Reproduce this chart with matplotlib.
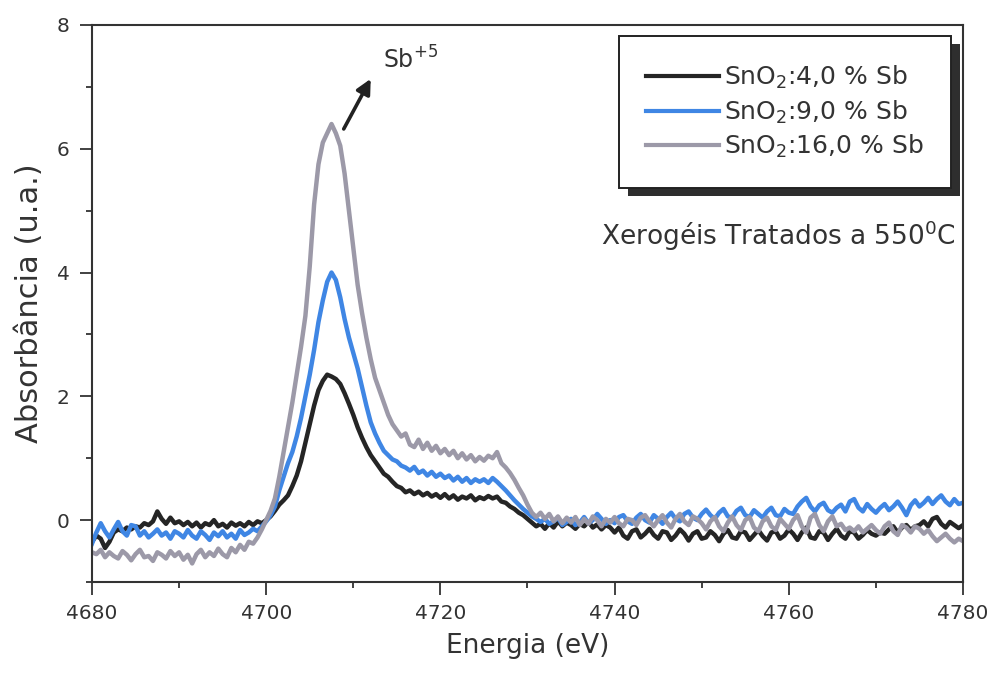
import matplotlib
matplotlib.use("Agg")
import matplotlib.pyplot as plt
import numpy as np
from matplotlib.patches import Rectangle
from matplotlib.ticker import MultipleLocator

# Sb K-edge XANES of SnO2:Sb xerogels, 0.5 eV step
ENERGY = np.arange(4680, 4780.25, 0.5)

SB_4 = [
    -0.35, -0.25, -0.30, -0.45, -0.35, -0.20, -0.15, -0.18, -0.12, -0.15, -0.10, -0.12, -0.05, -0.08, -0.02, 0.14, 0.02, -0.06, 0.04, -0.05,
    -0.02, -0.08, -0.03, -0.10, -0.04, -0.12, -0.05, -0.08, 0.00, -0.10, -0.06, -0.12, -0.04, -0.09, -0.05, -0.10, -0.03, -0.08, -0.02, -0.05,
    0.00, 0.06, 0.15, 0.25, 0.32, 0.40, 0.55, 0.72, 0.95, 1.25, 1.55, 1.85, 2.10, 2.25, 2.35, 2.32, 2.28, 2.20, 2.05, 1.88,
    1.70, 1.50, 1.33, 1.18, 1.05, 0.95, 0.85, 0.75, 0.70, 0.62, 0.55, 0.52, 0.45, 0.48, 0.42, 0.46, 0.40, 0.44, 0.38, 0.42,
    0.36, 0.42, 0.35, 0.40, 0.33, 0.38, 0.35, 0.40, 0.32, 0.37, 0.34, 0.39, 0.35, 0.38, 0.30, 0.28, 0.22, 0.18, 0.12, 0.08,
    0.02, -0.04, -0.10, -0.06, -0.14, -0.05, -0.12, -0.02, -0.10, -0.04, -0.08, -0.14, -0.06, -0.10, -0.03, -0.12, -0.07, -0.15, -0.08, -0.12,
    -0.20, -0.12, -0.25, -0.30, -0.18, -0.15, -0.28, -0.22, -0.14, -0.24, -0.30, -0.18, -0.20, -0.32, -0.25, -0.15, -0.22, -0.33, -0.22, -0.18,
    -0.30, -0.28, -0.18, -0.24, -0.34, -0.22, -0.16, -0.28, -0.30, -0.18, -0.20, -0.32, -0.24, -0.16, -0.26, -0.33, -0.20, -0.18, -0.30, -0.25,
    -0.15, -0.22, -0.32, -0.20, -0.12, -0.28, -0.30, -0.18, -0.20, -0.32, -0.22, -0.14, -0.25, -0.30, -0.18, -0.20, -0.30, -0.24, -0.16, -0.22,
    -0.25, -0.20, -0.22, -0.15, -0.10, -0.20, -0.12, -0.08, -0.16, -0.10, -0.08, -0.02, -0.10, 0.02, 0.05, -0.06, -0.12, -0.03, -0.08, -0.13, -0.08,
]

SB_9 = [
    -0.38, -0.20, -0.05, -0.18, -0.28, -0.15, -0.03, -0.18, -0.25, -0.08, -0.10, -0.25, -0.18, -0.28, -0.22, -0.15, -0.25, -0.20, -0.30, -0.18,
    -0.22, -0.28, -0.16, -0.25, -0.30, -0.18, -0.24, -0.32, -0.20, -0.26, -0.18, -0.28, -0.22, -0.30, -0.16, -0.24, -0.20, -0.14, -0.18, -0.10,
    -0.02, 0.08, 0.22, 0.48, 0.70, 0.92, 1.10, 1.35, 1.65, 2.00, 2.35, 2.75, 3.20, 3.55, 3.85, 4.00, 3.88, 3.60, 3.25, 2.95,
    2.70, 2.45, 2.15, 1.85, 1.58, 1.40, 1.25, 1.12, 1.05, 0.98, 0.95, 0.88, 0.85, 0.80, 0.86, 0.76, 0.80, 0.72, 0.78, 0.70,
    0.75, 0.68, 0.72, 0.64, 0.70, 0.62, 0.68, 0.60, 0.66, 0.62, 0.66, 0.60, 0.68, 0.62, 0.55, 0.48, 0.40, 0.32, 0.25, 0.18,
    0.12, 0.06, 0.02, -0.03, 0.02, -0.06, -0.02, 0.04, -0.08, -0.03, 0.02, -0.08, -0.04, 0.05, -0.05, 0.00, 0.10, 0.02, -0.06, 0.00,
    -0.05, 0.05, 0.08, -0.02, -0.06, 0.04, 0.10, 0.00, -0.04, 0.08, 0.02, -0.06, 0.05, 0.12, 0.02, -0.02, 0.10, 0.14, 0.04, 0.00,
    0.10, 0.17, 0.08, 0.02, 0.12, 0.18, 0.06, 0.04, 0.15, 0.20, 0.08, 0.05, 0.16, 0.10, 0.04, 0.14, 0.20, 0.08, 0.06, 0.18,
    0.12, 0.10, 0.22, 0.30, 0.36, 0.22, 0.14, 0.24, 0.28, 0.16, 0.12, 0.20, 0.25, 0.14, 0.30, 0.34, 0.20, 0.14, 0.26, 0.18,
    0.12, 0.20, 0.26, 0.16, 0.22, 0.30, 0.20, 0.08, 0.24, 0.32, 0.22, 0.28, 0.36, 0.26, 0.34, 0.40, 0.30, 0.24, 0.34, 0.26, 0.28,
]

SB_16 = [
    -0.52, -0.55, -0.48, -0.60, -0.52, -0.58, -0.62, -0.50, -0.56, -0.65, -0.55, -0.48, -0.60, -0.58, -0.66, -0.52, -0.56, -0.62, -0.50, -0.58,
    -0.52, -0.64, -0.56, -0.70, -0.55, -0.48, -0.60, -0.52, -0.58, -0.46, -0.55, -0.60, -0.45, -0.52, -0.40, -0.48, -0.35, -0.38, -0.28, -0.15,
    0.00, 0.15, 0.35, 0.70, 1.10, 1.50, 1.90, 2.35, 2.80, 3.30, 4.10, 5.10, 5.75, 6.10, 6.25, 6.40, 6.25, 6.05, 5.60, 5.00,
    4.40, 3.80, 3.35, 2.95, 2.60, 2.30, 2.10, 1.90, 1.70, 1.55, 1.45, 1.35, 1.40, 1.22, 1.18, 1.30, 1.15, 1.25, 1.12, 1.20,
    1.08, 1.15, 1.05, 1.12, 1.00, 1.08, 0.98, 1.05, 0.95, 1.02, 0.96, 1.04, 1.00, 1.10, 0.92, 0.85, 0.76, 0.65, 0.52, 0.40,
    0.25, 0.12, 0.05, 0.12, 0.02, 0.10, -0.02, 0.06, -0.05, 0.04, -0.04, 0.05, -0.08, 0.02, -0.06, 0.06, 0.00, -0.10, 0.02, -0.04,
    0.05, -0.05, -0.10, 0.02, 0.00, -0.08, 0.04, 0.08, -0.02, -0.10, 0.00, 0.08, -0.04, -0.12, 0.02, 0.10, -0.02, -0.08, 0.06, 0.02,
    -0.05, -0.15, -0.02, 0.05, -0.10, -0.18, -0.04, 0.06, -0.08, -0.16, 0.00, 0.05, -0.12, -0.18, -0.02, 0.04, -0.10, -0.16, 0.02, -0.06,
    -0.14, 0.00, 0.08, -0.10, -0.20, 0.04, 0.10, -0.08, -0.18, -0.02, 0.06, -0.10, -0.06, -0.16, -0.12, -0.18, -0.10, -0.20, -0.14, -0.08,
    -0.16, -0.22, -0.10, -0.04, -0.18, -0.24, -0.08, -0.12, -0.20, -0.10, -0.14, -0.22, -0.16, -0.26, -0.34, -0.28, -0.22, -0.30, -0.36, -0.30, -0.34,
]

SERIES = [
    (SB_4, "SnO$_2$:4,0 % Sb", "#252525"),
    (SB_9, "SnO$_2$:9,0 % Sb", "#3f86e4"),
    (SB_16, "SnO$_2$:16,0 % Sb", "#9c99a8"),
]

# arrow pointing at the Sb+5 white line
ARROW_TAIL = (4708.9, 6.32)
ARROW_HEAD = (4712.0, 7.13)

INK = "#333333"


def main():
    plt.rcParams["font.family"] = ["DejaVu Sans"]
    plt.rcParams["mathtext.fontset"] = "dejavusans"

    fig = plt.figure(figsize=(9.88, 6.74), dpi=100)
    ax = fig.add_axes([92 / 988, 1 - 582 / 674, 871 / 988, 557 / 674])

    for values, label, color in SERIES:
        ax.plot(ENERGY, values, color=color, linewidth=3.2, label=label)

    ax.set_xlim(4680, 4780)
    ax.set_ylim(-1, 8)
    ax.xaxis.set_major_locator(MultipleLocator(20))
    ax.xaxis.set_minor_locator(MultipleLocator(10))
    ax.yaxis.set_major_locator(MultipleLocator(2))
    ax.yaxis.set_minor_locator(MultipleLocator(1))
    ax.tick_params(which="both", direction="out", top=False, right=False,
                   color=INK, width=1.3, labelcolor=INK, labelsize=14.5)
    ax.tick_params(which="major", length=9, pad=7)
    ax.tick_params(which="minor", length=4)
    for spine in ax.spines.values():
        spine.set_color(INK)
        spine.set_linewidth(1.5)

    ax.set_xlabel("Energia (eV)", fontsize=19, color=INK, labelpad=7)
    ax.set_ylabel("Absorbância (u.a.)", fontsize=22, color=INK, labelpad=9)

    leg = ax.legend(loc="upper right", bbox_to_anchor=(0.986, 0.980),
                    borderaxespad=0, fontsize=18, frameon=True, fancybox=False,
                    framealpha=1, edgecolor="#222222", handlelength=2.9,
                    handletextpad=0.2, labelspacing=0.3, borderpad=1.1)
    leg.get_frame().set_linewidth(1.4)
    for line in leg.get_lines():
        line.set_linewidth(3)
    for text in leg.get_texts():
        text.set_color(INK)

    # solid drop shadow under the legend box
    fig.canvas.draw()
    bb = leg.get_window_extent().transformed(fig.transFigure.inverted())
    shadow = Rectangle((bb.x0 + 9 / 988, bb.y0 - 8 / 674), bb.width, bb.height,
                       transform=fig.transFigure, facecolor="#2e2e2e",
                       edgecolor="none", clip_on=False, zorder=4)
    ax.add_artist(shadow)
    leg.set_zorder(6)

    ax.text(4779.2, 4.6, "Xerogéis Tratados a 550$^{0}$C", fontsize=19,
            color=INK, ha="right", va="center")

    ax.annotate("", xy=ARROW_HEAD, xytext=ARROW_TAIL,
                arrowprops=dict(arrowstyle="-|>", color="#222222", lw=2.6,
                                mutation_scale=22, shrinkA=0, shrinkB=0))
    ax.text(4713.4, 7.3, "Sb$^{+5}$", fontsize=17, color=INK, va="baseline")

    fig.savefig("out.png", dpi=100)
    plt.close(fig)


if __name__ == "__main__":
    main()
